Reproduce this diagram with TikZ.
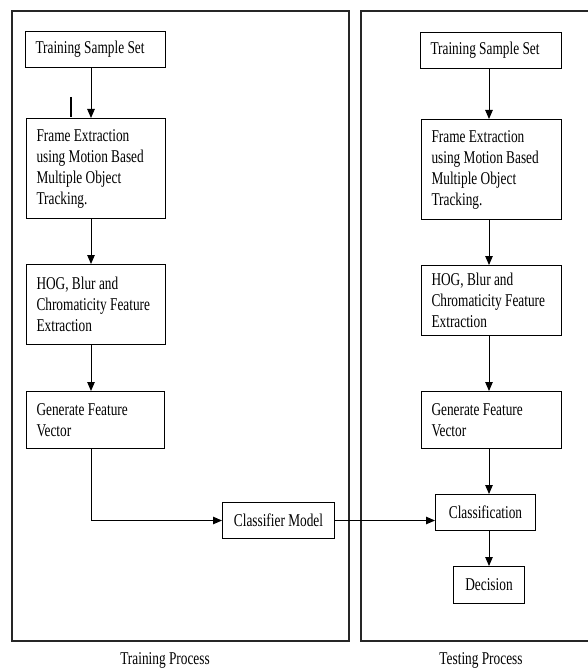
\documentclass[tikz,border=0pt]{standalone}
\usepackage{fontspec}
\setmainfont[FakeStretch=0.74]{Liberation Serif}
\usetikzlibrary{arrows.meta}
\begin{document}
\begin{tikzpicture}[x=1pt,y=-1pt,
  txt/.style={font=\fontsize{18}{21}\selectfont},
  box/.style={txt, draw=black, line width=1pt, anchor=north west, inner ysep=0pt},
  lbox/.style={box, align=flush left, inner xsep=10pt,
    execute at begin node={\spaceskip=0pt\xspaceskip=0pt\relax}},
  cbox/.style={box, align=center, inner xsep=0pt},
  arr/.style={-{Triangle[length=9pt,width=7.5pt]}, line width=1pt},
  panel/.style={draw=black!85, line width=1.2pt}]
\useasboundingbox (0,0) rectangle (587,668);
% panels
\draw[panel] (12,11) rectangle (349,641);
\draw[panel] (590,11) -- (361,11) -- (361,641) -- (590,641);
% column x positions
\coordinate (lx) at (91,0);
\coordinate (rx) at (489,0);
% left column
\node[lbox, text width=120pt, minimum height=36pt] (ltss) at (25,31) {Training Sample Set};
\node[lbox, text width=119pt, minimum height=100pt] (lfe) at (26,118) {Frame Extraction\\using Motion Based\\Multiple Object\\Tracking.};
\node[lbox, text width=119pt, minimum height=80pt] (lhog) at (26,264) {HOG, Blur and\\Chromaticity Feature\\Extraction};
\node[lbox, text width=118pt, minimum height=57pt] (lgen) at (26,391) {Generate Feature\\Vector};
% middle
\node[cbox, minimum width=112pt, minimum height=36pt] (cm) at (222,502) {Classifier Model};
% right column
\node[lbox, text width=121pt, minimum height=36pt] (rtss) at (420,32) {Training Sample Set};
\node[lbox, text width=120pt, minimum height=100pt] (rfe) at (421,119) {Frame Extraction\\using Motion Based\\Multiple Object\\Tracking.};
\node[lbox, text width=120pt, minimum height=70pt] (rhog) at (421,265) {HOG, Blur and\\Chromaticity Feature\\Extraction};
\node[lbox, text width=120pt, minimum height=57pt] (rgen) at (421,391) {Generate Feature\\Vector};
\node[cbox, minimum width=100pt, minimum height=36pt] (cls) at (435,494) {Classification};
\node[cbox, minimum width=71pt, minimum height=37pt] (dec) at (453,566) {Decision};
% stray mark
\draw[line width=1.5pt] (71,97) -- (71,117);
% connectors left
\draw[arr] (ltss.south -| lx) -- (lfe.north -| lx);
\draw[arr] (lfe.south -| lx) -- (lhog.north -| lx);
\draw[arr] (lhog.south -| lx) -- (lgen.north -| lx);
\draw[arr] (lgen.south -| lx) |- (cm.west);
\draw[arr] (cm.east) -- (cm.east -| cls.west);
% connectors right
\draw[arr] (rtss.south -| rx) -- (rfe.north -| rx);
\draw[arr] (rfe.south -| rx) -- (rhog.north -| rx);
\draw[arr] (rhog.south -| rx) -- (rgen.north -| rx);
\draw[arr] (rgen.south -| rx) -- (cls.north -| rx);
\draw[arr] (cls.south -| rx) -- (dec.north -| rx);
% captions
\node[txt] (trainlbl) at (165,660) {Training Process};
\node[txt] (testlbl) at (481,660) {Testing Process};
\end{tikzpicture}
\end{document}
